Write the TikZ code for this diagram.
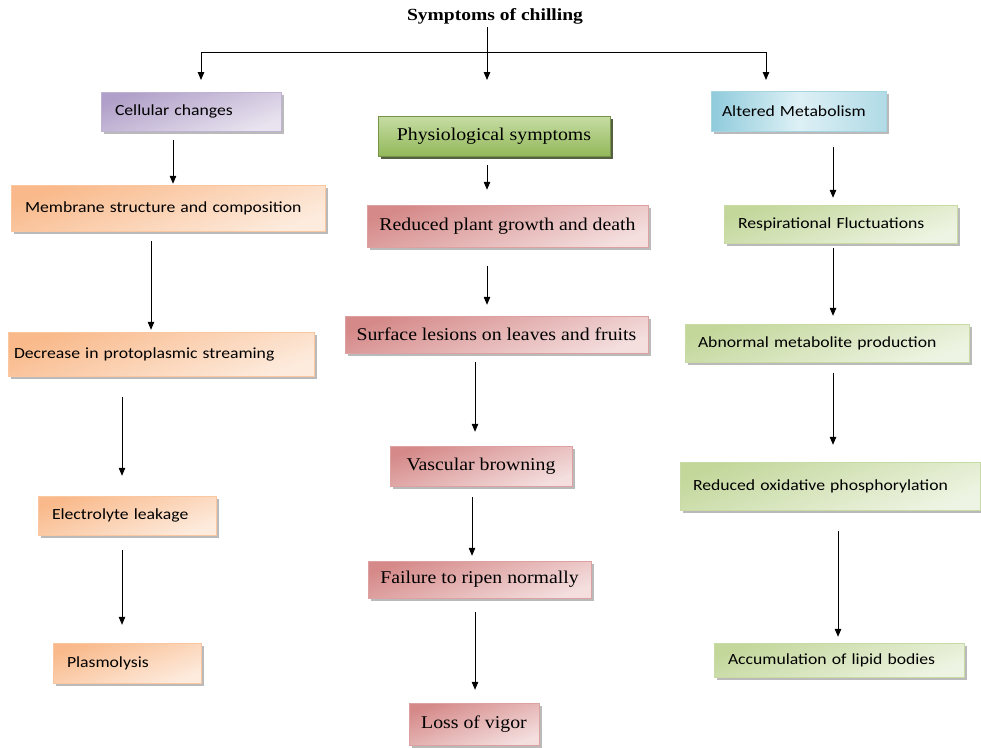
\documentclass[tikz,border=0pt]{standalone}
\usepackage{fontspec}
\setmainfont{Liberation Serif}[FakeStretch=1.1]
\newfontfamily\boxsans{Carlito}[FakeStretch=1.14]
\newfontfamily\titlefont{Liberation Serif}[FakeStretch=1.15]
\usetikzlibrary{arrows.meta,shadows}
\definecolor{orD}{HTML}{F9B98A}\definecolor{orL}{HTML}{FDEBDD}
\definecolor{rdD}{HTML}{D58A89}\definecolor{rdL}{HTML}{F4DEDE}
\definecolor{puD}{HTML}{B09FC8}\definecolor{puL}{HTML}{E8E3EF}
\definecolor{blD}{HTML}{8FCBDC}\definecolor{blL}{HTML}{DDF0F5}
\definecolor{gnD}{HTML}{93B85A}\definecolor{gnL}{HTML}{C6DDA4}
\definecolor{lgD}{HTML}{C3D79B}\definecolor{lgL}{HTML}{EEF4E3}
\tikzset{
  base/.style={rectangle, inner ysep=0pt, drop shadow={shadow xshift=2.5pt, shadow yshift=-2.5pt, fill=black!45, opacity=.6}},
  sbox/.style={base, font=\boxsans\fontsize{15.5}{18}\selectfont, align=left, inner xsep=14pt},
  rbox/.style={base, font=\fontsize{18}{21}\selectfont, align=center, inner xsep=4pt},
  orbox/.style={sbox, draw=orD!80!white, top color=orD, bottom color=orL, shading angle=20},
  rdbox/.style={rbox, draw=rdD!80!white, top color=rdD, bottom color=rdL, shading angle=20},
  pubox/.style={sbox, draw=puD!80!white, top color=puD, bottom color=puL, shading angle=20},
  blbox/.style={sbox, draw=blD!80!white, left color=blD, right color=blD!70!white, middle color=blL},
  gnbox/.style={rbox, draw=gnD!80!black, top color=gnL, bottom color=gnD, drop shadow={shadow xshift=3pt, shadow yshift=-3pt, fill=gnD!40!black, opacity=.8}},
  lgbox/.style={sbox, draw=lgD!90!white, top color=lgD, bottom color=lgL, shading angle=20},
  arr/.style={line width=1pt, -{Triangle[width=6.5pt,length=8pt]}},
  ln/.style={line width=1pt}
}
\begin{document}
\begin{tikzpicture}[x=1pt,y=-1pt]
\useasboundingbox (0,0) rectangle (981,747);
% title
\node[font=\titlefont\bfseries\fontsize{17}{20}\selectfont] (title) at (495,16) {Symptoms of chilling};
% column 1
\node[pubox, minimum width=180pt, minimum height=39pt, text width=152pt] (cell) at (191,111.5) {Cellular changes};
\node[orbox, minimum width=314pt, minimum height=46pt, text width=286pt] (mem) at (168,208) {Membrane structure and composition};
\node[orbox, minimum width=306pt, minimum height=44pt, text width=294pt, inner xsep=6pt] (dec) at (161,354) {Decrease in protoplasmic streaming};
\node[orbox, minimum width=178pt, minimum height=39pt, text width=150pt] (ele) at (127,515.5) {Electrolyte leakage};
\node[orbox, minimum width=148pt, minimum height=40pt, text width=120pt] (pla) at (127,663) {Plasmolysis};
% column 2
\node[gnbox, minimum width=232pt, minimum height=40pt] (phy) at (494,136) {Physiological symptoms};
\node[rdbox, minimum width=281pt, minimum height=42pt] (red) at (507.5,226) {Reduced plant growth and death};
\node[rdbox, minimum width=303pt, minimum height=37pt] (sur) at (496.5,334.5) {Surface lesions on leaves and fruits};
\node[rdbox, minimum width=182pt, minimum height=40pt] (vas) at (481,466) {Vascular browning};
\node[rdbox, minimum width=223pt, minimum height=37pt] (fai) at (479.5,579.5) {Failure to ripen normally};
\node[rdbox, minimum width=130pt, minimum height=42pt] (los) at (474,724) {Loss of vigor};
% column 3
\node[blbox, minimum width=175pt, minimum height=40pt, text width=153pt, inner xsep=11pt] (alt) at (798.5,111) {Altered Metabolism};
\node[lgbox, minimum width=233pt, minimum height=38pt, text width=205pt] (res) at (840.5,224) {Respirational Fluctuations};
\node[lgbox, minimum width=284pt, minimum height=38pt, text width=258pt, inner xsep=13pt] (abn) at (827,343) {Abnormal metabolite production};
\node[lgbox, minimum width=300pt, minimum height=48pt, text width=274pt, inner xsep=13pt] (rox) at (830,486) {Reduced oxidative phosphorylation};
\node[lgbox, minimum width=250pt, minimum height=34pt, text width=222pt] (acc) at (839,660) {Accumulation of lipid bodies};
% top connectors
\coordinate (jl) at (201,52);
\coordinate (jr) at (766,52);
\coordinate (jc) at (487,52);
\coordinate (el) at (201,80);
\coordinate (ec) at (487,80);
\coordinate (er) at (766,80);
\draw[ln] (jl) -- (jr);
\draw[arr] (title.south -| jc) -- (ec);
\draw[arr] (jl) -- (el);
\draw[arr] (jr) -- (er);
% arrow x positions
\coordinate (x1) at (173,0);
\coordinate (x2) at (151,0);
\coordinate (x3) at (122,0);
\coordinate (x5) at (487,0);
\coordinate (x6) at (475,0);
\coordinate (x7) at (472,0);
\coordinate (x9) at (833,0);
\coordinate (x10) at (838,0);
% column 1 arrows
\draw[arr, shorten <=9pt, shorten >=1pt] (cell.south -| x1) -- (mem.north -| x1);
\draw[arr, shorten <=10pt, shorten >=2pt] (mem.south -| x2) -- (dec.north -| x2);
\draw[arr, shorten <=21pt, shorten >=20pt] (dec.south -| x3) -- (ele.north -| x3);
\draw[arr, shorten <=15pt, shorten >=18pt] (ele.south -| x3) -- (pla.north -| x3);
% column 2 arrows
\draw[arr, shorten <=9pt, shorten >=15pt] (phy.south -| x5) -- (red.north -| x5);
\draw[arr, shorten <=19pt, shorten >=11pt] (red.south -| x5) -- (sur.north -| x5);
\draw[arr, shorten <=9pt, shorten >=14pt] (sur.south -| x6) -- (vas.north -| x6);
\draw[arr, shorten <=11pt, shorten >=5pt] (vas.south -| x7) -- (fai.north -| x7);
\draw[arr, shorten <=14pt, shorten >=13pt] (fai.south -| x6) -- (los.north -| x6);
% column 3 arrows
\draw[arr, shorten <=16pt, shorten >=7pt] (alt.south -| x9) -- (res.north -| x9);
\draw[arr, shorten <=5pt, shorten >=8pt] (res.south -| x9) -- (abn.north -| x9);
\draw[arr, shorten <=11pt, shorten >=17pt] (abn.south -| x9) -- (rox.north -| x9);
\draw[arr, shorten <=21pt, shorten >=6pt] (rox.south -| x10) -- (acc.north -| x10);
\end{tikzpicture}
\end{document}
